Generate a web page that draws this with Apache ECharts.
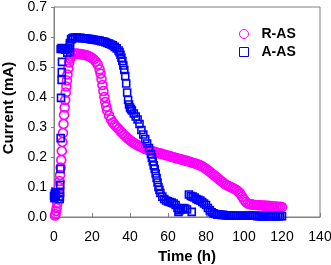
<!DOCTYPE html>
<html>
<head>
<meta charset="utf-8">
<script src="https://cdn.jsdelivr.net/npm/echarts@6/dist/echarts.min.js"></script>
<style>html,body{margin:0;padding:0;background:#fff;}#c{width:331px;height:265px;}</style>
</head>
<body>
<div id="c"></div>
<script>
// R-AS: [time (h), current (mA)]
var rasPoints = [
[0.5,0.005],[0.8,0.01],[1.1,0.02],[1.4,0.03],[1.7,0.045],[2.0,0.06],[2.3,0.08],[2.6,0.1],[2.9,0.12],[3.2,0.14],
[3.5,0.165],[3.8,0.19],[4.1,0.22],[4.4,0.25],[4.7,0.28],[5.0,0.31],[5.3,0.34],[5.6,0.365],[5.9,0.39],[6.2,0.415],
[6.5,0.435],[6.8,0.455],[7.1,0.475],[7.5,0.495],[8.0,0.515],[8.5,0.528],[9,0.535],
[10,0.542],[11,0.545],[12,0.545],[13,0.544],[14,0.543],[15,0.542],[16,0.541],[17,0.539],[18,0.537],[19,0.534],
[20,0.53],[21,0.525],[22,0.518],[23,0.508],[24,0.492],
[24.5,0.478],[25,0.46],[25.5,0.44],[26,0.42],[26.5,0.4],[27,0.383],[27.5,0.368],[28,0.355],
[29,0.338],[30,0.325],[31,0.315],[32,0.307],[33,0.3],[34,0.293],[35,0.286],[36,0.279],[37,0.273],[38,0.267],
[39,0.261],[40,0.256],[41,0.251],[42,0.247],[43,0.243],[44,0.239],[45,0.236],[46,0.233],[47,0.23],[48,0.227],
[49,0.225],[50,0.223],[51,0.221],[52,0.219],[53,0.217],[54,0.215],[55,0.213],[56,0.212],[57,0.21],[58,0.208],
[59,0.206],[60,0.205],[61,0.203],[62,0.201],[63,0.199],[64,0.197],[65,0.195],[66,0.194],[67,0.192],[68,0.19],
[69,0.188],[70,0.187],[71,0.185],[72,0.183],[73,0.181],[74,0.179],[75,0.177],[76,0.175],[77,0.172],[78,0.169],
[79,0.165],[80,0.161],[81,0.156],[82,0.151],[83,0.146],[84,0.141],[85,0.136],[86,0.131],[87,0.125],[88,0.12],
[89,0.115],[90,0.11],[91,0.106],[92,0.103],[93,0.1],[94,0.097],[95,0.094],[96,0.09],[97,0.085],[98,0.078],
[99,0.068],[100,0.058],[101,0.05],[102,0.045],[103,0.043],[104,0.042],[105,0.041],[106,0.04],[107,0.04],[108,0.039],
[109,0.039],[110,0.038],[111,0.038],[112,0.037],[113,0.037],[114,0.036],[115,0.036],[116,0.035],[117,0.035],[118,0.034],
[119,0.034],[120,0.033]
];
// A-AS: [time (h), current (mA)]
var aasPoints = [
[0,0.07],[0.2,0.063],[0.4,0.078],[0.6,0.068],[0.8,0.082],[1.0,0.072],
[3.0,0.06],[3.1,0.068],[3.2,0.08],[3.3,0.107],[3.4,0.16],[3.5,0.263],[3.7,0.397],[4.0,0.457],[4.1,0.483],[4.2,0.517],
[3.5,0.56],[4,0.563],[4.5,0.56],[5,0.562],[5.5,0.56],[6,0.558],[6.5,0.56],[7,0.548],[7.5,0.562],[8.4,0.55],[8.4,0.573],[8.4,0.58],
[9,0.592],[9.5,0.595],[10,0.597],[11,0.598],[12,0.598],[13,0.597],[14,0.597],[15,0.596],[16,0.596],[17,0.595],
[18,0.594],[19,0.593],[20,0.592],[21,0.591],[22,0.59],[23,0.589],[24,0.588],[25,0.586],[26,0.585],[27,0.583],
[28,0.58],[29,0.578],[30,0.575],[31,0.572],[32,0.567],[33,0.562],[34,0.555],[34.5,0.549],[35,0.541],[35.5,0.531],
[36,0.52],[36.5,0.505],[37,0.49],[37.5,0.47],[38,0.445],[38.5,0.415],[39,0.39],[39.5,0.375],[40,0.365],[40.5,0.36],
[41,0.355],[42,0.345],[43,0.335],[44,0.325],[45,0.31],[46,0.29],[47,0.275],[48,0.26],[49,0.245],[50,0.23],
[51,0.21],[51.5,0.198],[52,0.185],[52.5,0.172],[53,0.16],[53.5,0.145],[54,0.13],[54.5,0.115],[55,0.1],[55.5,0.09],
[56,0.08],[57,0.068],[58,0.06],[59,0.055],[60,0.052],[61,0.05],[62,0.048],[63,0.045],[64,0.04],[65,0.03],
[65.5,0.017],[66,0.023],[67,0.026],[68,0.03],[69,0.028],[70,0.025],[71,0.075],[72,0.07],[72.5,0.017],[73,0.068],
[74,0.065],[75,0.06],[76,0.057],[77,0.055],[78,0.05],[79,0.045],[80,0.04],[81,0.03],[82,0.022],[83,0.016],
[84,0.012],[85,0.01],[86,0.008],[87,0.008],[88,0.007],[89,0.007],[90,0.006],[91,0.006],[92,0.005],[93,0.005],
[94,0.005],[95,0.004],[96,0.004],[97,0.004],[98,0.004],[99,0.004],[100,0.004],[101,0.004],[102,0.004],[103,0.004],
[104,0.004],[105,0.004],[106,0.004],[107,0.003],[108,0.003],[109,0.003],[110,0.003],[111,0.003],[112,0.003],[113,0.003],
[114,0.003],[115,0.003],[116,0.003],[117,0.003],[118,0.003],[119,0.003],[120,0.003]
];
var seriesNames = ['R-AS', 'A-AS'];
var xTicks = {min: 0, max: 140, interval: 20};
var yTicks = {min: 0, max: 0.7, interval: 0.1};

var FONT = '"Liberation Sans", Arial, sans-serif';
var MAGENTA = '#FF00FF', BLUE = '#0000FF', GRAY = '#808080';

var chart = echarts.init(document.getElementById('c'), null, {renderer: 'canvas'});
chart.setOption({
  animation: false,
  backgroundColor: '#fff',
  grid: {left: 54, right: 11, top: 7, bottom: 48, show: true, borderColor: GRAY, borderWidth: 1, containLabel: false, outerBoundsMode: 'none'},
  legend: {
    orient: 'vertical', left: 234, top: 22, itemWidth: 9, itemHeight: 9, itemGap: 4,
    textStyle: {fontFamily: FONT, fontSize: 14, fontWeight: 'bold', color: '#000', padding: [0, 0, 0, 8]},
    data: [
      {name: seriesNames[0], icon: 'circle', itemStyle: {color: 'rgba(0,0,0,0)', borderColor: MAGENTA, borderWidth: 1}},
      {name: seriesNames[1], icon: 'rect', itemStyle: {color: 'rgba(0,0,0,0)', borderColor: BLUE, borderWidth: 1}}
    ]
  },
  xAxis: {
    type: 'value', min: xTicks.min, max: xTicks.max, interval: xTicks.interval,
    name: 'Time (h)', nameLocation: 'middle', nameGap: 32,
    nameTextStyle: {fontFamily: FONT, fontSize: 15, fontWeight: 'bold', color: '#000'},
    axisLine: {lineStyle: {color: GRAY, width: 1}},
    axisTick: {inside: true, length: 4, lineStyle: {color: GRAY}},
    axisLabel: {fontFamily: FONT, fontSize: 14, color: '#000', margin: 13},
    splitLine: {show: false}
  },
  yAxis: {
    type: 'value', min: yTicks.min, max: yTicks.max, interval: yTicks.interval,
    name: 'Current (mA)', nameLocation: 'middle', nameGap: 34,
    nameTextStyle: {fontFamily: FONT, fontSize: 15, fontWeight: 'bold', color: '#000', padding: [0, 0, 0, 8]},
    axisLine: {show: true, lineStyle: {color: GRAY, width: 1}},
    axisTick: {show: true, inside: false, length: 3, lineStyle: {color: GRAY}},
    axisLabel: {fontFamily: FONT, fontSize: 14, color: '#000', margin: 7, formatter: function (v) { return v.toFixed(1); }},
    splitLine: {show: false}
  },
  series: [
    {name: seriesNames[0], type: 'scatter', symbol: 'circle', symbolSize: 9, data: rasPoints,
     itemStyle: {color: 'rgba(0,0,0,0)', borderColor: MAGENTA, borderWidth: 1.6, opacity: 1}},
    {name: seriesNames[1], type: 'scatter', symbol: 'rect', symbolSize: 7, data: aasPoints,
     itemStyle: {color: 'rgba(0,0,0,0)', borderColor: BLUE, borderWidth: 1.6, opacity: 1}}
  ]
});
</script>
</body>
</html>
